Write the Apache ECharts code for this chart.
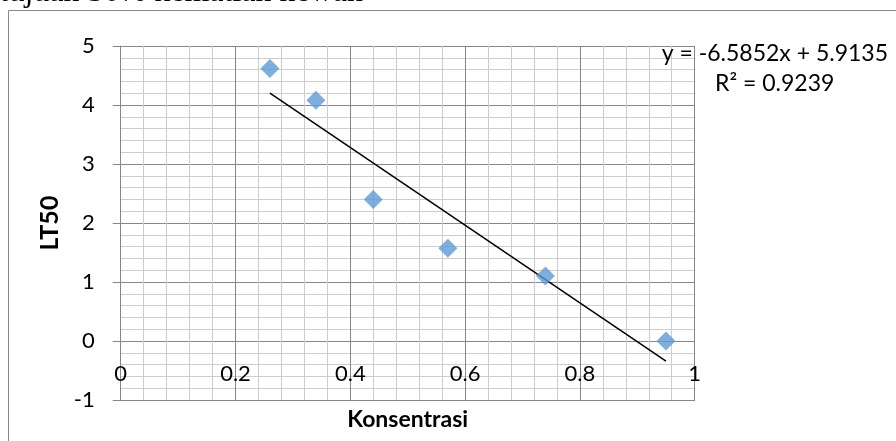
<!DOCTYPE html>
<html><head><meta charset="utf-8">
<script src="https://cdn.jsdelivr.net/npm/echarts@6/dist/echarts.min.js"></script>
<style>html,body{margin:0;padding:0;background:#fff}#c{width:896px;height:441px}</style>
</head><body><div id="c"></div>
<script>
// Data
var konsentrasi = [0.26, 0.34, 0.44, 0.57, 0.74, 0.95];
var lt50 = [4.62, 4.08, 2.40, 1.57, 1.10, 0.00];
var trendSlope = -6.5852;
var trendIntercept = 5.9135;
var xTickLabels = ['0', '0.2', '0.4', '0.6', '0.8', '1'];
var yTickLabels = ['-1', '0', '1', '2', '3', '4', '5'];
var titleText = 'tujuan 50% kematian hewan';
var eqText = 'y = -6.5852x + 5.9135';
var r2Text = 'R² = 0.9239';

var pts = konsentrasi.map(function (x, i) { return [x, lt50[i]]; });
var x0 = konsentrasi[0], x1 = konsentrasi[konsentrasi.length - 1];
var trend = [[x0, trendSlope * x0 + trendIntercept], [x1, trendSlope * x1 + trendIntercept]];

var FONT = 'Lato';
var MAJ = '#878787', MIN = '#cdcdcd';
var chart = echarts.init(document.getElementById('c'), null, {renderer: 'canvas'});
chart.setOption({
  animation: false,
  backgroundColor: '#fff',
  grid: {left: 120.7, right: 201.3, top: 46, bottom: 41, containLabel: false, outerBoundsMode: 'none'},
  xAxis: {
    type: 'value', min: 0, max: 1, interval: 0.2,
    axisLine: {show: true, onZero: false, lineStyle: {color: MAJ, width: 1}},
    axisTick: {show: false},
    axisLabel: {margin: -37, color: '#000', fontFamily: FONT, fontSize: 22,
      formatter: function (v) { return xTickLabels[Math.round(v / 0.2)]; }},
    splitLine: {show: true, lineStyle: {color: MAJ, width: 1}},
    minorTick: {show: false, splitNumber: 5},
    minorSplitLine: {show: true, lineStyle: {color: MIN, width: 1}},
    name: 'Konsentrasi', nameLocation: 'middle', nameGap: 8,
    nameTextStyle: {color: '#000', fontFamily: FONT, fontSize: 23, fontWeight: 'bold', verticalAlign: 'top'}
  },
  yAxis: {
    type: 'value', min: -1, max: 5, interval: 1,
    axisLine: {show: true, onZero: false, lineStyle: {color: MAJ, width: 1}},
    axisTick: {show: true, length: 8, lineStyle: {color: MAJ}},
    axisLabel: {margin: 26, color: '#000', fontFamily: FONT, fontSize: 22,
      formatter: function (v) { return yTickLabels[Math.round(v + 1)]; }},
    splitLine: {show: true, lineStyle: {color: MAJ, width: 1}},
    minorTick: {show: false, splitNumber: 5},
    minorSplitLine: {show: true, lineStyle: {color: MIN, width: 1}},
    name: 'LT50', nameLocation: 'middle', nameGap: 57, nameRotate: 90,
    nameTextStyle: {color: '#000', fontFamily: FONT, fontSize: 25, fontWeight: 'bold'}
  },
  series: [
    {type: 'scatter', data: pts, symbol: 'diamond', symbolSize: 19,
      itemStyle: {color: '#5b9bd5'}, z: 3},
    {type: 'line', data: trend, symbol: 'none', lineStyle: {color: '#000', width: 1.5},
      z: 2, silent: true}
  ],
  graphic: [
    {type: 'rect', shape: {x: 8.5, y: 10.5, width: 900, height: 450},
      style: {fill: 'none', stroke: '#888', lineWidth: 1}, z: 0},
    {type: 'text', x: 363, y: 9, style: {text: titleText, font: '32px "Liberation Serif"',
      fill: '#000', textAlign: 'right', textVerticalAlign: 'bottom'}},
    {type: 'text', x: 661.7, y: 42, style: {text: eqText, font: '23px Lato', fill: '#000'}, z: 10},
    {type: 'text', x: 715, y: 72.5, style: {text: r2Text, font: '23px Lato', fill: '#000'}, z: 10}
  ]
});
</script></body></html>
